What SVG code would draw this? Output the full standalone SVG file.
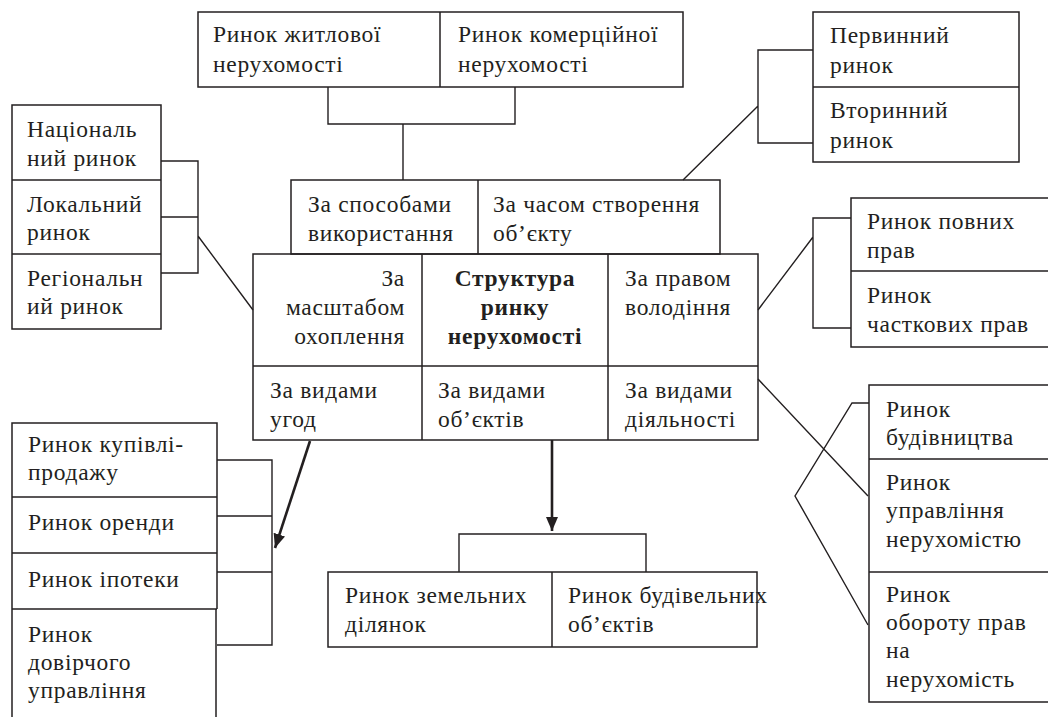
<svg xmlns="http://www.w3.org/2000/svg" width="1048" height="717" viewBox="0 0 1048 717">
<defs>
<style>
.b{fill:none;stroke:#231f20;stroke-width:1.5}
.c{fill:none;stroke:#231f20;stroke-width:1.4}
.a{fill:none;stroke:#231f20;stroke-width:2.6}
text{font-family:'Liberation Serif','DejaVu Serif',serif;font-size:23.5px;letter-spacing:0.7px;fill:#231f20}
.bold{font-weight:bold;text-anchor:middle}
.r{text-anchor:end}
</style>
<marker id="ah" markerUnits="userSpaceOnUse" markerWidth="16" markerHeight="14" refX="14" refY="6" orient="auto">
<path d="M0,0 L14,6 L0,12 Z" fill="#231f20"/>
</marker>
</defs>
<rect width="1048" height="717" fill="#fff"/>

<g id="connectors">
<path class="c" d="M328,87 V124 H515 V87 M403,124 V180"/>
<path class="c" d="M813,50 H758 V143 H813 M758,106 L683,180"/>
<path class="c" d="M161,161 H198 V273 H161 M161,217 H198 M198,236 L253,310"/>
<path class="c" d="M851,218 H813 V328 H851 M813,237 L758,310"/>
<path class="c" d="M217,460 H272 V645 H217 M217,516 H272 M217,572 H272"/>
<path class="a" d="M310,441 L275,548" marker-end="url(#ah)"/>
<path class="a" d="M552,440 V531" marker-end="url(#ah)"/>
<path class="c" d="M459,572 V534 H646 V572"/>
<path class="c" d="M758,379 L868,496 M869,403 H852 L795,496 L868,625"/>
</g>

<g id="top-markets">
<rect class="b" x="198" y="12" width="485" height="75"/>
<line class="b" x1="440" y1="12" x2="440" y2="87"/>
<text x="213" y="42">Ринок житлової</text>
<text x="213" y="72">нерухомості</text>
<text x="458" y="42">Ринок комерційної</text>
<text x="458" y="72">нерухомості</text>
</g>

<g id="primary-secondary">
<rect class="b" x="813" y="12" width="206" height="150"/>
<line class="b" x1="813" y1="87" x2="1019" y2="87"/>
<text x="830" y="43">Первинний</text>
<text x="830" y="73">ринок</text>
<text x="830" y="118">Вторинний</text>
<text x="830" y="148">ринок</text>
</g>

<g id="scale-markets">
<rect class="b" x="12" y="105" width="149" height="224"/>
<line class="b" x1="12" y1="180" x2="161" y2="180"/>
<line class="b" x1="12" y1="254" x2="161" y2="254"/>
<text x="27" y="137">Національ</text>
<text x="27" y="166">ний ринок</text>
<text x="27" y="212">Локальний</text>
<text x="27" y="240">ринок</text>
<text x="27" y="286">Регіональн</text>
<text x="27" y="314">ий ринок</text>
</g>

<g id="usage-time">
<rect class="b" x="291" y="180" width="429" height="74"/>
<line class="b" x1="478" y1="180" x2="478" y2="254"/>
<text x="308" y="212">За способами</text>
<text x="308" y="241">використання</text>
<text x="493" y="212">За часом створення</text>
<text x="493" y="241">об’єкту</text>
</g>

<g id="structure">
<rect class="b" x="253" y="254" width="505" height="186"/>
<line class="b" x1="422" y1="254" x2="422" y2="440"/>
<line class="b" x1="608" y1="254" x2="608" y2="440"/>
<line class="b" x1="253" y1="366" x2="758" y2="366"/>
<text class="r" x="405" y="286">За</text>
<text class="r" x="405" y="315">масштабом</text>
<text class="r" x="405" y="344">охоплення</text>
<text class="bold" x="515" y="286">Структура</text>
<text class="bold" x="515" y="315">ринку</text>
<text class="bold" x="515" y="344">нерухомості</text>
<text x="625" y="286">За правом</text>
<text x="625" y="315">володіння</text>
<text x="270" y="398">За видами</text>
<text x="270" y="427">угод</text>
<text x="438" y="398">За видами</text>
<text x="438" y="427">об’єктів</text>
<text x="625" y="398">За видами</text>
<text x="625" y="427">діяльності</text>
</g>

<g id="rights-markets">
<path class="b" d="M1050,198 H851 V347 H1050 M851,271 H1050"/>
<text x="867" y="229">Ринок повних</text>
<text x="867" y="258">прав</text>
<text x="867" y="303">Ринок</text>
<text x="867" y="332">часткових прав</text>
</g>

<g id="deal-markets">
<path class="b" d="M12,720 V423 H217 V609 M217,609 H12 M12,497 H217 M12,553 H217 M216,609 V720"/>
<text x="28" y="452">Ринок купівлі-</text>
<text x="28" y="480">продажу</text>
<text x="28" y="530">Ринок оренди</text>
<text x="28" y="587">Ринок іпотеки</text>
<text x="28" y="642">Ринок</text>
<text x="28" y="670">довірчого</text>
<text x="28" y="698">управління</text>
</g>

<g id="object-markets">
<rect class="b" x="328" y="572" width="429" height="75"/>
<line class="b" x1="552" y1="572" x2="552" y2="647"/>
<text x="345" y="603">Ринок земельних</text>
<text x="345" y="632">ділянок</text>
<text x="568" y="603">Ринок будівельних</text>
<text x="568" y="632">об’єктів</text>
</g>

<g id="activity-markets">
<path class="b" d="M1050,385 H869 V702 H1050 M869,459 H1050 M869,572 H1050"/>
<text x="886" y="417">Ринок</text>
<text x="886" y="445">будівництва</text>
<text x="886" y="490">Ринок</text>
<text x="886" y="518">управління</text>
<text x="886" y="547">нерухомістю</text>
<text x="886" y="602">Ринок</text>
<text x="886" y="630">обороту прав</text>
<text x="886" y="658">на</text>
<text x="886" y="687">нерухомість</text>
</g>
</svg>
